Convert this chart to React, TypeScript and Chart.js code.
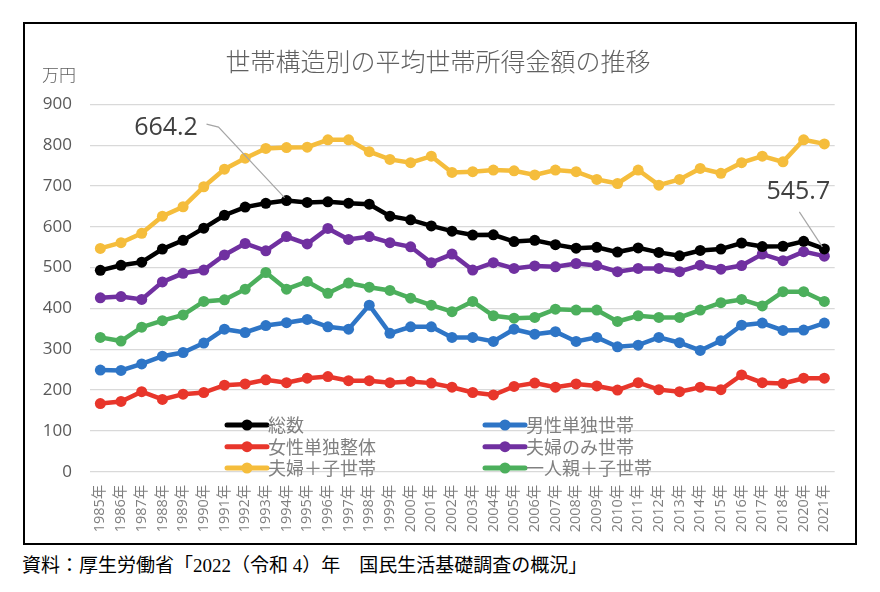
import { useEffect, useRef } from 'react';
import { Chart, registerables } from 'chart.js';

Chart.register(...registerables);

const years = [
  '1985年', '1986年', '1987年', '1988年', '1989年', '1990年', '1991年', '1992年', '1993年',
  '1994年', '1995年', '1996年', '1997年', '1998年', '1999年', '2000年', '2001年', '2002年',
  '2003年', '2004年', '2005年', '2006年', '2007年', '2008年', '2009年', '2010年', '2011年',
  '2012年', '2013年', '2014年', '2015年', '2016年', '2017年', '2018年', '2020年', '2021年',
];

const total = [493.3, 505.6, 513.2, 545.3, 566.7, 596.6, 628.2, 648.3, 657.5, 664.2, 659.6, 661.2, 657.7, 655.2, 626.0, 616.9, 602.0, 589.3, 579.7, 580.4, 563.8, 566.8, 556.2, 547.5, 549.6, 538.0, 548.2, 537.2, 528.9, 541.9, 545.4, 560.2, 551.6, 552.3, 564.3, 545.7];
const maleSingle = [249, 248, 264, 283, 292, 315, 349, 341, 358, 365, 373, 355, 349, 408, 339, 355, 355, 329, 329, 319, 349, 337, 343, 319, 329, 306, 310, 329, 316, 297, 321, 359, 364, 346, 347, 364];
const femaleSingle = [167, 172, 196, 177, 190, 194, 212, 215, 225, 218, 229, 233, 223, 223, 218, 221, 217, 207, 194, 188, 209, 217, 207, 215, 210, 200, 218, 201, 196, 207, 201, 237, 218, 216, 229, 229];
const coupleOnly = [426, 429, 422, 465, 486, 494, 531, 559, 541, 576, 558, 596, 569, 576, 561, 551, 512, 533, 494, 512, 498, 504, 502, 510, 505, 490, 498, 498, 490, 506, 496, 505, 533, 517, 539, 528];
const coupleChild = [547, 561, 584, 626, 649, 698, 741, 768, 792, 794, 795, 813, 813, 784, 765, 757, 773, 733, 735, 739, 737, 727, 739, 735, 716, 706, 739, 702, 716, 743, 731, 757, 773, 759, 813, 803];
const singleParent = [329, 320, 354, 370, 384, 417, 421, 447, 488, 447, 466, 437, 462, 452, 444, 425, 408, 392, 417, 382, 376, 378, 398, 396, 396, 368, 382, 378, 378, 396, 414, 422, 406, 441, 441, 417];

const seriesNames = ['総数', '男性単独世帯', '女性単独整体', '夫婦のみ世帯', '夫婦＋子世帯', '一人親＋子世帯'];
const seriesValues = [total, maleSingle, femaleSingle, coupleOnly, coupleChild, singleParent];
const seriesColors = ['#000000', '#2E75C6', '#E8362B', '#7030A0', '#F5BD3C', '#4CAF5C'];

const yMin = 0;
const yMax = 900;
const yStep = 100;

const titleText = '世帯構造別の平均世帯所得金額の推移';
const unitText = '万円';
const sourceText = '資料：厚生労働省「2022（令和 4）年　国民生活基礎調査の概況」';

const SANS = '"Open Sans", "Noto Sans CJK JP", sans-serif';
const CJK = '"Noto Sans CJK JP", "Open Sans", sans-serif';

const titlePlugin = {
  id: 'titlePlugin',
  afterDraw(chart: any) {
    const ctx = chart.ctx;
    ctx.save();
    ctx.fillStyle = '#606060';
    ctx.font = `300 25px ${CJK}`;
    ctx.textAlign = 'center';
    ctx.textBaseline = 'middle';
    ctx.fillText(titleText, 413, 37);
    ctx.font = `300 17px ${CJK}`;
    ctx.textAlign = 'left';
    ctx.fillText(unitText, 17, 51);
    ctx.restore();
  },
};

const legendPlugin = {
  id: 'customLegend',
  afterDatasetsDraw(chart: any) {
    const ctx = chart.ctx;
    const area = chart.chartArea;
    const colX = [area.left + 137, area.left + 395];
    const rowY = [area.bottom - 46.7, area.bottom - 25, area.bottom - 3.7];
    ctx.save();
    chart.data.datasets.forEach((ds: any, i: number) => {
      const x = colX[i % 2];
      const y = rowY[Math.floor(i / 2)];
      ctx.strokeStyle = ds.borderColor;
      ctx.lineWidth = 5;
      ctx.lineCap = 'round';
      ctx.beginPath();
      ctx.moveTo(x, y);
      ctx.lineTo(x + 40, y);
      ctx.stroke();
      ctx.fillStyle = ds.backgroundColor;
      ctx.beginPath();
      ctx.arc(x + 20, y, 5.5, 0, Math.PI * 2);
      ctx.fill();
      ctx.fillStyle = '#808080';
      ctx.font = `18px ${CJK}`;
      ctx.textAlign = 'left';
      ctx.textBaseline = 'middle';
      ctx.fillText(ds.label, x + 41, y);
    });
    ctx.restore();
  },
};

const calloutPlugin = {
  id: 'callouts',
  afterDatasetsDraw(chart: any) {
    const ctx = chart.ctx;
    const meta = chart.getDatasetMeta(0);
    const vals = chart.data.datasets[0].data as number[];
    const maxIdx = vals.indexOf(Math.max(...vals));
    const lastIdx = vals.length - 1;
    ctx.save();
    ctx.font = `25px ${SANS}`;
    ctx.fillStyle = '#404040';
    ctx.textAlign = 'center';
    ctx.textBaseline = 'middle';
    ctx.strokeStyle = '#a6a6a6';
    ctx.lineWidth = 1.2;

    const p1 = meta.data[maxIdx];
    ctx.fillText(vals[maxIdx].toFixed(1), p1.x - 120.5, p1.y - 72.6);
    ctx.beginPath();
    ctx.moveTo(p1.x - 80, p1.y - 76.5);
    ctx.lineTo(p1.x - 68, p1.y - 73.5);
    ctx.lineTo(p1.x - 2, p1.y - 3);
    ctx.stroke();

    const p2 = meta.data[lastIdx];
    ctx.fillText(vals[lastIdx].toFixed(1), p2.x - 26, p2.y - 57);
    ctx.beginPath();
    ctx.moveTo(p2.x - 25, p2.y - 37);
    ctx.lineTo(p2.x - 2, p2.y - 2);
    ctx.stroke();
    ctx.restore();
  },
};

function App() {
  const canvasRef = useRef<HTMLCanvasElement | null>(null);

  useEffect(() => {
    if (!canvasRef.current) return;
    const chart = new Chart(canvasRef.current, {
      type: 'line',
      data: {
        labels: years,
        datasets: seriesNames.map((name, i) => ({
          label: name,
          data: seriesValues[i],
          borderColor: seriesColors[i],
          backgroundColor: seriesColors[i],
          borderWidth: 4.5,
          pointRadius: 5.5,
          pointBorderWidth: 0,
          pointBackgroundColor: seriesColors[i],
          tension: 0,
          fill: false,
        })),
      },
      options: {
        animation: false,
        responsive: true,
        maintainAspectRatio: false,
        events: [],
        layout: { padding: { top: 80.3, right: 18, left: 0, bottom: 0 } },
        plugins: {
          legend: { display: false },
          title: { display: false },
          tooltip: { enabled: false },
        },
        scales: {
          x: {
            type: 'category',
            offset: true,
            grid: { display: false, drawTicks: false },
            border: { display: false },
            ticks: {
              autoSkip: false,
              maxRotation: 90,
              minRotation: 90,
              padding: 13,
              color: '#7f7f7f',
              font: { size: 14.5, family: SANS },
            },
            afterFit: (s: any) => {
              s.height = 71.3;
            },
          },
          y: {
            min: yMin,
            max: yMax,
            ticks: {
              stepSize: yStep,
              padding: 18,
              color: '#595959',
              font: { size: 17, family: SANS },
            },
            grid: { color: '#d9d9d9', drawTicks: false, lineWidth: 1.2 },
            border: { display: false },
            afterFit: (s: any) => {
              s.width = 65;
            },
          },
        },
      },
      plugins: [titlePlugin, legendPlugin, calloutPlugin],
    } as any);
    return () => chart.destroy();
  }, []);

  return (
    <div style={{ position: 'absolute', left: 0, top: 0, width: 880, height: 592, background: '#ffffff' }}>
      <div
        style={{
          position: 'absolute',
          left: 23,
          top: 22,
          width: 834,
          height: 523,
          border: '2px solid #000000',
          boxSizing: 'border-box',
          background: '#ffffff',
        }}
      >
        <div style={{ position: 'relative', width: 830, height: 519 }}>
          <canvas ref={canvasRef} />
        </div>
      </div>
      <div
        style={{
          position: 'absolute',
          left: 22,
          top: 555,
          fontSize: 19,
          lineHeight: '22px',
          color: '#000000',
          whiteSpace: 'nowrap',
          fontFamily: '"Liberation Serif", "Noto Sans CJK JP", serif',
        }}
      >
        {sourceText}
      </div>
    </div>
  );
}

export default App;
